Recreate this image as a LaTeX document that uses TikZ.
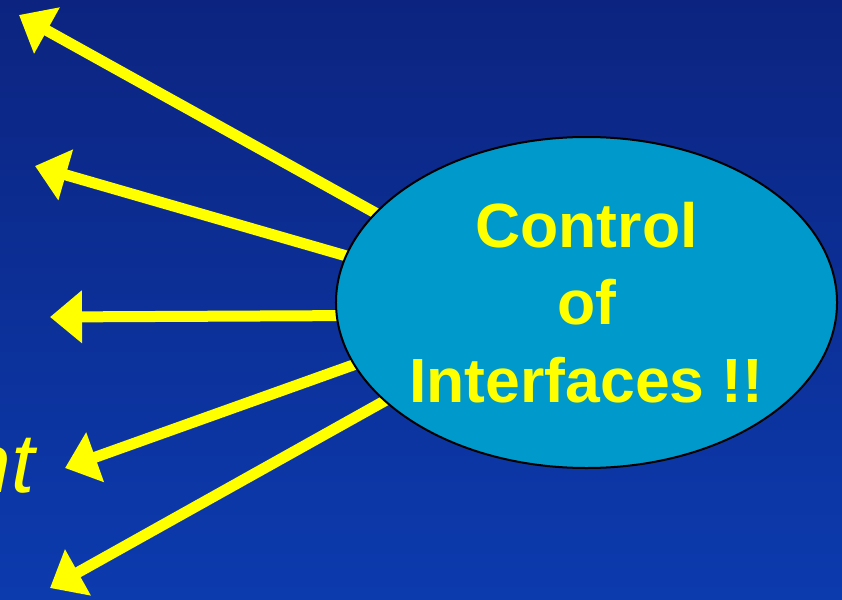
\documentclass[tikz,border=0pt]{standalone}
\usepackage{fontspec}
\setmainfont{Liberation Sans}
\usetikzlibrary{arrows.meta,shapes.geometric,calc}
\pgfdeclarelayer{backdrop}
\pgfdeclarelayer{rays}
\pgfsetlayers{backdrop,rays,main}
\definecolor{skytop}{HTML}{0C2480}
\definecolor{skybot}{HTML}{0C3BAE}
\definecolor{bubblefill}{HTML}{0099CC}
\definecolor{yellowray}{HTML}{FFFF00}
\tikzset{
  rayarrow/.style={draw=yellowray, line width=11pt,
    -{Triangle[length=32pt,width=51pt]}},
  bubble/.style={ellipse, draw=black, line width=2pt, fill=bubblefill,
    minimum width=499pt, minimum height=331pt, inner sep=0pt,
    align=center, text=yellowray,
    font=\bfseries\fontsize{62.5}{77.5}\selectfont},
  sidetext/.style={inner sep=0pt, text=yellowray,
    font=\itshape\fontsize{84}{84}\selectfont},
}
\begin{document}
\begin{tikzpicture}[x=1pt,y=-1pt]
  \useasboundingbox (0,0) rectangle (842,599);
  \begin{pgfonlayer}{backdrop}
    \shade[top color=skytop, bottom color=skybot] (0,0) rectangle (842,599);
  \end{pgfonlayer}

  % central bubble
  \node[bubble] (ctl) at (586.5,302.5) {Control\\of\\Interfaces !!};

  % free ends of the rays
  \coordinate (t1) at (19,15);
  \coordinate (t2) at (35,166);
  \coordinate (t3) at (50,317);
  \coordinate (t4) at (65,468);
  \coordinate (t5) at (50,588);

  % truncated word at the left edge
  \node[sidetext, anchor=base east] (cut) at (35,492) {nt};

  % rays leaving the bubble
  \begin{pgfonlayer}{rays}
    \draw[rayarrow] ($(ctl.157.4)!-8pt!(t1)$) -- (t1);
    \draw[rayarrow] ($(ctl.169.7)!-8pt!(t2)$) -- (t2);
    \draw[rayarrow] ($(ctl.183.4)!-8pt!(t3)$) -- (t3);
    \draw[rayarrow] ($(ctl.195.8)!-8pt!(t4)$) -- (t4);
    \draw[rayarrow] ($(ctl.206.5)!-8pt!(t5)$) -- (t5);
  \end{pgfonlayer}
\end{tikzpicture}
\end{document}
